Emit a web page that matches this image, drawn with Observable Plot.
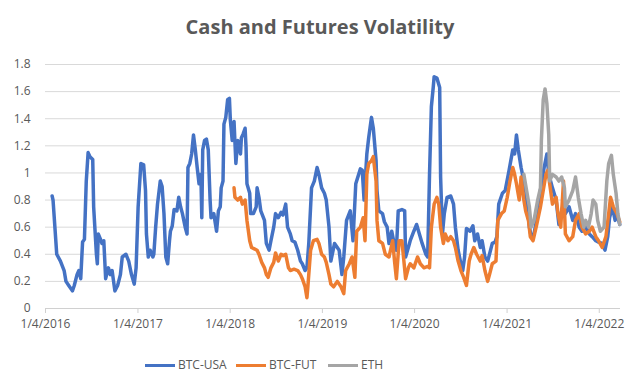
<!DOCTYPE html>
<html><head><meta charset="utf-8">
<script src="https://cdn.jsdelivr.net/npm/d3@7"></script>
<script src="https://cdn.jsdelivr.net/npm/@observablehq/plot@0.6"></script>
<style>
body{margin:0;background:#fff;font-family:"Open Sans",sans-serif;}
#wrap{position:relative;width:640px;height:391px;overflow:hidden;background:#fff}
#title{position:absolute;top:0;left:0;width:640px;height:54px;text-align:center;line-height:54px;font-weight:bold;font-size:20px;color:#595959}
#chart{position:absolute;top:50px;left:0}
#legend{position:absolute;top:345px;left:0;width:640px;height:46px}
.item{position:absolute;top:11px;display:flex;align-items:center;font-size:12px;color:#595959;line-height:18px}
.sw{width:30px;height:3px;margin-right:3px}
</style></head>
<body>
<div id="wrap">
  <div id="title">Cash and Futures Volatility</div>
  <div id="chart"></div>
  <div id="legend"></div>
</div>
<script>
// decimal year, value
const btcUsa = [
[2016.08,0.83],[2016.09,0.80],[2016.11,0.60],[2016.13,0.40],[2016.17,0.35],[2016.21,0.28],[2016.23,0.20],[2016.26,0.17],[2016.30,0.13],[2016.32,0.17],[2016.35,0.25],[2016.37,0.28],[2016.39,0.22],[2016.41,0.49],[2016.43,0.51],[2016.45,0.94],[2016.47,1.15],[2016.49,1.12],[2016.52,1.10],[2016.53,0.75],[2016.56,0.40],[2016.57,0.33],[2016.58,0.55],[2016.61,0.50],[2016.62,0.48],[2016.64,0.50],[2016.66,0.22],[2016.69,0.30],[2016.71,0.25],[2016.73,0.28],[2016.76,0.13],[2016.79,0.17],[2016.82,0.25],[2016.84,0.38],[2016.88,0.40],[2016.91,0.35],[2016.94,0.25],[2016.97,0.18],[2016.99,0.30],
[2017.01,0.75],[2017.04,1.07],[2017.07,1.06],[2017.09,0.87],[2017.10,0.55],[2017.12,0.38],[2017.14,0.43],[2017.17,0.38],[2017.18,0.40],[2017.20,0.60],[2017.22,0.77],[2017.25,0.94],[2017.27,0.90],[2017.29,0.70],[2017.31,0.38],[2017.33,0.33],[2017.35,0.50],[2017.36,0.57],[2017.38,0.61],[2017.40,0.73],[2017.43,0.72],[2017.45,0.82],[2017.47,0.75],[2017.49,0.70],[2017.52,0.60],[2017.54,0.55],[2017.55,1.04],[2017.57,1.07],[2017.59,1.14],[2017.61,1.28],[2017.63,1.17],[2017.65,1.04],[2017.67,0.92],[2017.69,0.99],[2017.70,0.67],[2017.71,1.17],[2017.73,1.24],[2017.75,1.25],[2017.77,1.17],[2017.79,0.80],[2017.80,0.67],[2017.83,0.70],[2017.86,0.57],[2017.88,0.72],[2017.90,0.75],[2017.91,0.89],[2017.93,0.94],[2017.94,1.36],[2017.96,1.41],[2017.98,1.54],
[2018.00,1.55],[2018.01,1.39],[2018.03,1.24],[2018.05,1.38],[2018.07,1.07],[2018.09,1.24],[2018.12,1.14],[2018.13,1.26],[2018.15,1.29],[2018.17,1.33],[2018.18,1.19],[2018.19,0.92],[2018.22,0.85],[2018.23,0.70],[2018.26,0.70],[2018.29,0.75],[2018.30,0.89],[2018.32,0.82],[2018.34,0.72],[2018.38,0.65],[2018.40,0.48],[2018.43,0.43],[2018.45,0.50],[2018.48,0.60],[2018.50,0.70],[2018.53,0.67],[2018.56,0.71],[2018.58,0.69],[2018.61,0.77],[2018.63,0.60],[2018.66,0.55],[2018.68,0.50],[2018.71,0.49],[2018.74,0.43],[2018.77,0.35],[2018.79,0.33],[2018.82,0.28],[2018.84,0.30],[2018.86,0.48],[2018.89,0.89],[2018.92,0.94],[2018.95,1.04],[2018.97,0.99],
[2019.00,0.89],[2019.03,0.85],[2019.05,0.80],[2019.08,0.60],[2019.10,0.35],[2019.14,0.48],[2019.19,0.43],[2019.22,0.25],[2019.24,0.38],[2019.27,0.65],[2019.31,0.72],[2019.34,0.50],[2019.37,0.92],[2019.42,1.03],[2019.44,1.02],[2019.46,0.80],[2019.49,1.14],[2019.51,1.26],[2019.54,1.41],[2019.56,1.33],[2019.59,1.09],[2019.60,0.87],[2019.62,0.72],[2019.66,0.70],[2019.68,0.64],[2019.71,0.60],[2019.73,0.48],[2019.76,0.57],[2019.78,0.50],[2019.81,0.43],[2019.83,0.72],[2019.87,0.73],[2019.90,0.72],[2019.91,0.38],[2019.94,0.45],[2019.96,0.50],
[2020.00,0.57],[2020.03,0.62],[2020.06,0.55],[2020.09,0.48],[2020.13,0.40],[2020.15,0.38],[2020.17,0.99],[2020.19,1.49],[2020.21,1.63],[2020.22,1.71],[2020.25,1.70],[2020.28,1.63],[2020.29,0.97],[2020.31,0.55],[2020.33,0.70],[2020.36,0.82],[2020.40,0.83],[2020.43,0.77],[2020.45,0.60],[2020.48,0.43],[2020.51,0.33],[2020.53,0.28],[2020.55,0.38],[2020.57,0.59],[2020.61,0.57],[2020.64,0.61],[2020.66,0.50],[2020.69,0.55],[2020.72,0.45],[2020.74,0.50],[2020.77,0.38],[2020.80,0.35],[2020.82,0.40],[2020.85,0.48],[2020.88,0.49],[2020.90,0.53],[2020.92,0.77],[2020.96,0.85],[2020.99,0.87],
[2021.03,1.02],[2021.07,1.17],[2021.09,1.14],[2021.11,1.28],[2021.13,1.17],[2021.16,1.04],[2021.19,0.94],[2021.21,0.87],[2021.25,0.60],[2021.27,0.53],[2021.30,0.55],[2021.34,0.70],[2021.37,0.87],[2021.41,1.04],[2021.44,1.14],[2021.46,0.99],[2021.50,0.89],[2021.54,0.80],[2021.57,0.62],[2021.61,0.75],[2021.64,0.70],[2021.68,0.75],[2021.72,0.65],[2021.75,0.70],[2021.79,0.60],[2021.82,0.57],[2021.86,0.60],[2021.90,0.55],[2021.93,0.53],[2021.97,0.50],
[2022.00,0.49],[2022.04,0.48],[2022.07,0.43],[2022.10,0.53],[2022.12,0.67],[2022.15,0.75],[2022.18,0.65],[2022.20,0.70],[2022.23,0.62]
];
const btcFut = [
[2018.05,0.89],[2018.06,0.82],[2018.09,0.80],[2018.12,0.82],[2018.14,0.77],[2018.17,0.80],[2018.19,0.65],[2018.20,0.60],[2018.22,0.50],[2018.24,0.45],[2018.27,0.44],[2018.30,0.43],[2018.32,0.40],[2018.35,0.34],[2018.38,0.30],[2018.40,0.25],[2018.42,0.23],[2018.45,0.30],[2018.48,0.34],[2018.50,0.41],[2018.53,0.35],[2018.56,0.40],[2018.58,0.39],[2018.61,0.40],[2018.64,0.30],[2018.66,0.28],[2018.70,0.29],[2018.74,0.28],[2018.77,0.25],[2018.79,0.22],[2018.82,0.16],[2018.84,0.08],[2018.85,0.16],[2018.88,0.43],[2018.91,0.50],[2018.95,0.51],[2018.97,0.48],
[2019.00,0.40],[2019.03,0.38],[2019.05,0.34],[2019.08,0.25],[2019.10,0.18],[2019.13,0.16],[2019.17,0.20],[2019.21,0.16],[2019.24,0.11],[2019.26,0.28],[2019.30,0.33],[2019.33,0.38],[2019.36,0.23],[2019.38,0.57],[2019.42,0.60],[2019.45,0.67],[2019.47,0.50],[2019.49,0.99],[2019.51,1.07],[2019.54,1.09],[2019.56,1.12],[2019.59,0.94],[2019.60,0.65],[2019.62,0.50],[2019.66,0.48],[2019.69,0.40],[2019.73,0.38],[2019.77,0.50],[2019.79,0.35],[2019.81,0.22],[2019.84,0.50],[2019.87,0.50],[2019.91,0.22],[2019.94,0.30],[2019.96,0.33],
[2020.00,0.30],[2020.04,0.38],[2020.07,0.33],[2020.11,0.30],[2020.15,0.31],[2020.17,0.30],[2020.19,0.60],[2020.22,0.77],[2020.25,0.82],[2020.27,0.77],[2020.29,0.60],[2020.32,0.48],[2020.34,0.55],[2020.37,0.50],[2020.40,0.53],[2020.43,0.50],[2020.45,0.45],[2020.48,0.35],[2020.51,0.28],[2020.54,0.23],[2020.57,0.17],[2020.60,0.35],[2020.62,0.40],[2020.65,0.45],[2020.68,0.40],[2020.72,0.35],[2020.74,0.39],[2020.77,0.28],[2020.80,0.20],[2020.82,0.25],[2020.85,0.33],[2020.89,0.35],[2020.91,0.65],[2020.95,0.70],[2020.98,0.72],
[2021.01,0.82],[2021.04,0.94],[2021.07,1.04],[2021.09,0.99],[2021.11,0.92],[2021.14,0.80],[2021.16,0.97],[2021.19,0.80],[2021.21,0.72],[2021.24,0.65],[2021.26,0.53],[2021.29,0.50],[2021.33,0.62],[2021.37,0.75],[2021.40,0.87],[2021.43,0.99],[2021.45,1.02],[2021.47,0.92],[2021.50,0.77],[2021.54,0.82],[2021.56,0.70],[2021.59,0.60],[2021.62,0.94],[2021.64,0.55],[2021.68,0.50],[2021.72,0.53],[2021.75,0.65],[2021.79,0.70],[2021.82,0.60],[2021.86,0.55],[2021.90,0.57],[2021.93,0.60],[2021.97,0.53],
[2022.00,0.50],[2022.04,0.45],[2022.08,0.53],[2022.11,0.70],[2022.13,0.82],[2022.16,0.75],[2022.20,0.70],[2022.23,0.64]
];
const eth = [
[2021.19,0.99],[2021.22,0.87],[2021.25,0.75],[2021.27,0.60],[2021.30,0.65],[2021.34,0.80],[2021.37,0.89],[2021.38,1.24],[2021.40,1.54],[2021.42,1.62],[2021.44,1.51],[2021.46,1.28],[2021.47,0.94],[2021.50,0.99],[2021.54,0.97],[2021.57,0.94],[2021.60,0.97],[2021.63,0.89],[2021.64,0.75],[2021.68,0.80],[2021.72,0.87],[2021.75,0.97],[2021.78,0.82],[2021.81,0.70],[2021.84,0.60],[2021.86,0.65],[2021.89,0.60],[2021.92,0.70],[2021.94,0.80],[2021.97,0.77],[2021.99,0.65],
[2022.02,0.57],[2022.06,0.60],[2022.09,0.94],[2022.11,1.07],[2022.14,1.13],[2022.16,0.99],[2022.19,0.85],[2022.21,0.70],[2022.23,0.62]
];
const seriesNames = ["BTC-USA","BTC-FUT","ETH"];
const seriesColors = ["#4472C4","#ED7D31","#A5A5A5"];
const yTicks = [0,0.2,0.4,0.6,0.8,1,1.2,1.4,1.6,1.8];
const xTickYears = [2016,2017,2018,2019,2020,2021,2022];

const toDate = t => { const y = Math.floor(t); return new Date(Date.UTC(y,0,1) + (t - y) * 365.25 * 864e5); };
const rows = [];
[btcUsa, btcFut, eth].forEach((arr, i) => arr.forEach(([t, v]) => rows.push({date: toDate(t), value: v, series: seriesNames[i]})));
const xTicks = xTickYears.map(y => new Date(Date.UTC(y, 0, 4)));
const fmtDate = d => `${d.getUTCMonth()+1}/${d.getUTCDate()}/${d.getUTCFullYear()}`;

const chart = Plot.plot({
  width: 640, height: 295,
  marginTop: 14, marginBottom: 37, marginLeft: 45, marginRight: 20,
  style: {fontFamily: "Open Sans", fontSize: "12px", color: "#595959", background: "white", overflow: "visible"},
  x: {type: "utc", label: null, domain: [new Date(Date.UTC(2016,0,4)), new Date(Date.UTC(2022,2,29))]},
  y: {label: null, domain: [0, 1.8]},
  color: {domain: seriesNames, range: seriesColors},
  marks: [
    Plot.gridY(yTicks, {stroke: "#d9d9d9", strokeOpacity: 1, strokeWidth: 1}),
    Plot.ruleY([0], {stroke: "#d0d0d0"}),
    Plot.axisY(yTicks, {label: null, tickSize: 0, tickPadding: 15, tickFormat: d => String(+d.toFixed(1)), fill: "#595959", fontSize: 12}),
    Plot.axisX(xTicks, {label: null, tickSize: 5, tickPadding: 6, tickFormat: fmtDate, stroke: "#d0d0d0", fill: "#595959", fontSize: 12}),
    Plot.lineY(rows, {x: "date", y: "value", z: "series", stroke: "series", strokeWidth: 3.5, strokeLinejoin: "round", strokeLinecap: "round"})
  ]
});
document.getElementById("chart").appendChild(chart);

const lefts = [145, 236, 328];
const legend = document.getElementById("legend");
seriesNames.forEach((n, i) => {
  const it = document.createElement("div");
  it.className = "item";
  it.style.left = lefts[i] + "px";
  it.innerHTML = `<span class="sw" style="background:${seriesColors[i]}"></span><span>${n}</span>`;
  legend.appendChild(it);
});
</script>
</body></html>
